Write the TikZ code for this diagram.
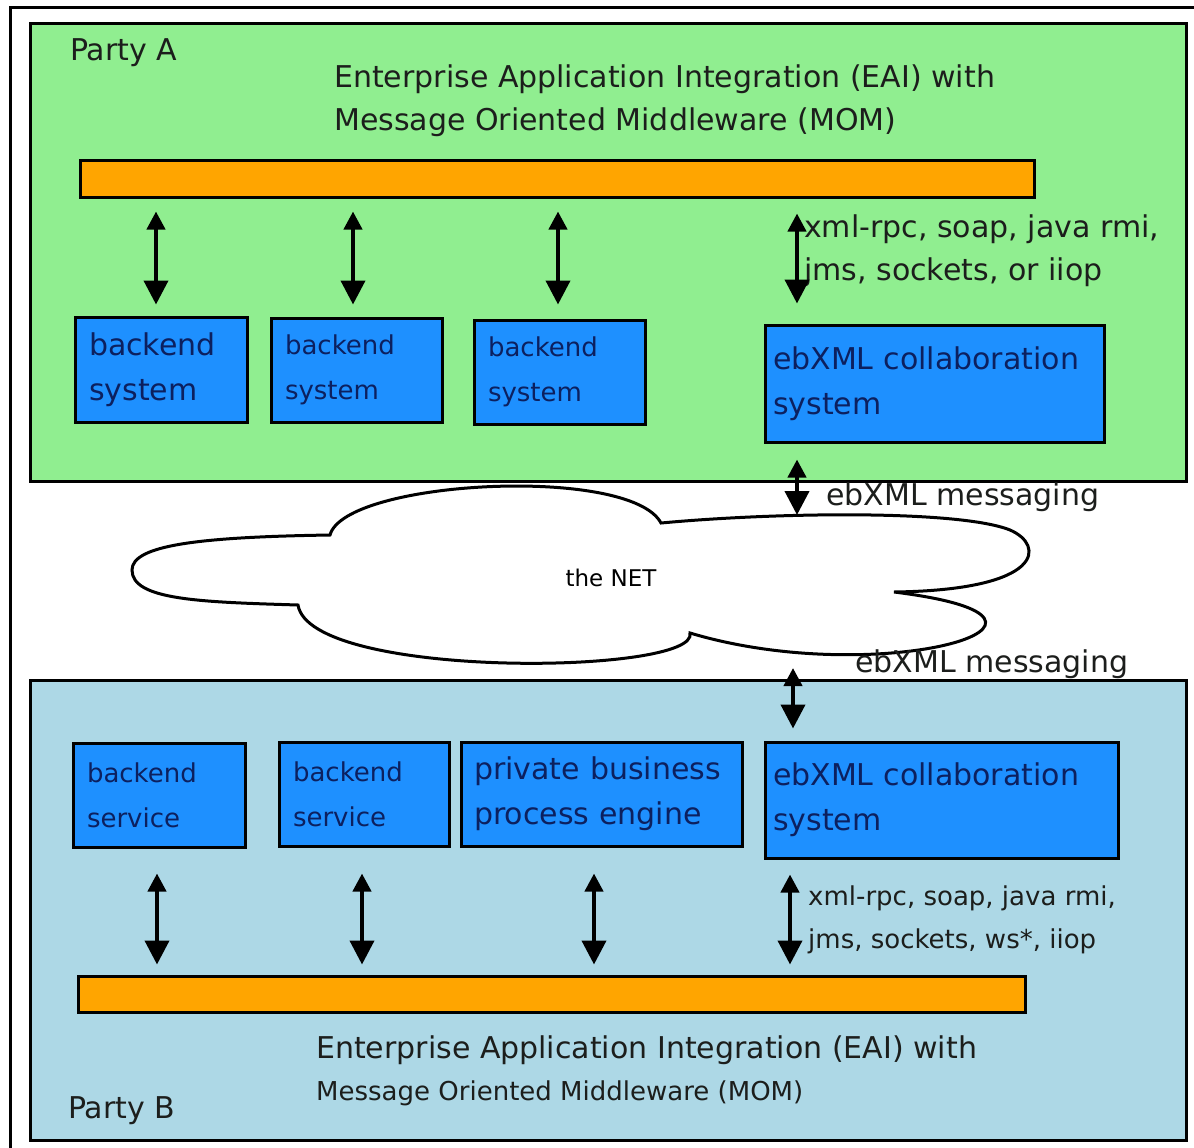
\documentclass[tikz,border=0pt]{standalone}
\usepackage{fontspec}
\setmainfont{DejaVu Sans}
\usetikzlibrary{arrows.meta}

\definecolor{greenA}{RGB}{144,238,144}
\definecolor{blueB}{RGB}{173,216,230}
\definecolor{busorange}{RGB}{255,165,0}
\definecolor{sysblue}{RGB}{30,144,255}
\definecolor{systext}{RGB}{12,32,95}
\definecolor{ink}{RGB}{28,30,28}

\begin{document}
\begin{tikzpicture}
  [
    x=1pt, y=-1pt,
    party/.style={draw=black, line width=3pt, inner sep=0pt},
    bus/.style={draw=black, line width=3pt, fill=busorange, inner sep=0pt},
    sys/.style={draw=black, line width=3pt, fill=sysblue, text=systext,
      inner xsep=14pt, align=left, font=\fontsize{30}{45}\selectfont},
    syssm/.style={sys, font=\fontsize{26}{45}\selectfont},
    lbl/.style={anchor=base west, inner sep=0pt, text=ink,
      font=\fontsize{30}{45}\selectfont},
    lblsm/.style={lbl, font=\fontsize{26}{45}\selectfont},
    link/.style={line width=4pt, shorten <=13pt, shorten >=11pt,
      {Triangle[width=18pt,length=18pt]}-{Triangle[width=24pt,length=24pt]}}
  ]
  \useasboundingbox (0,0) rectangle (1194,1148);
  \clip (0,0) rectangle (1194,1148);
  \fill[white] (0,0) rectangle (1194,1148);
  \draw[line width=3pt] (10,1170) -- (10,8) -- (1220,8);

  % party A
  \node (partyA) at (608,252.5) [party, fill=greenA, minimum width=1156pt, minimum height=457pt] {};
  \node (nameA) at (70,60) [lbl] {Party A};
  \node (titleA1) at (334,88) [lbl] {Enterprise Application Integration (EAI) with};
  \node (titleA2) at (334,130) [lbl] {Message Oriented Middleware (MOM)};
  \node (busA) at (557,178.5) [bus, minimum width=954pt, minimum height=37pt] {};
  \node (sysA1) at (161,369.5) [sys, minimum width=172pt, minimum height=105pt, text width=144pt] {backend\\system};
  \node (sysA2) at (356.5,370) [syssm, minimum width=171pt, minimum height=104pt, text width=143pt] {backend\\system};
  \node (sysA3) at (559.5,372) [syssm, minimum width=171pt, minimum height=104pt, text width=143pt] {backend\\system};
  \node (sysA4) at (934.5,383.5) [sys, inner xsep=8pt, minimum width=339pt, minimum height=117pt, text width=323pt] {ebXML collaboration\\system};
  \node (protoA1) at (804,237) [lbl] {xml-rpc, soap, java rmi,};
  \node (protoA2) at (804,280) [lbl] {jms, sockets, or iiop};

  % the net
  \draw[line width=3pt, fill=white] (132,570)
    .. controls (132,545) and (200,537) .. (330,535)
    .. controls (345,480) and (630,465) .. (661,523)
    .. controls (780,512) and (960,510) .. (1010,530)
    .. controls (1045,545) and (1045,590) .. (894,592)
    .. controls (1120,620) and (880,690) .. (690,633)
    .. controls (700,675) and (310,680) .. (298,605)
    .. controls (200,602) and (132,600) .. (132,570) -- cycle;
  \node (net) at (611,578) [text=black, font=\fontsize{23}{28}\selectfont] {the NET};
  \coordinate (netA) at (797,515);
  \coordinate (netB) at (793,668);
  \node (msgA) at (826,505) [lbl] {ebXML messaging};
  \node (msgB) at (855,672) [lbl] {ebXML messaging};

  % party B
  \node (partyB) at (608,910) [party, fill=blueB, minimum width=1156pt, minimum height=460pt] {};
  \node (sysB1) at (159,795) [syssm, minimum width=172pt, minimum height=104pt, text width=144pt] {backend\\service};
  \node (sysB2) at (364,794) [syssm, minimum width=170pt, minimum height=104pt, text width=142pt] {backend\\service};
  \node (sysB3) at (601.5,794) [sys, inner xsep=13pt, minimum width=281pt, minimum height=104pt, text width=255pt] {private business\\process engine};
  \node (sysB4) at (941.5,800) [sys, inner xsep=8pt, minimum width=353pt, minimum height=116pt, text width=337pt] {ebXML collaboration\\system};
  \node (protoB1) at (808,905) [lblsm] {xml-rpc, soap, java rmi,};
  \node (protoB2) at (808,948) [lblsm] {jms, sockets, ws*, iiop};
  \node (busB) at (551.5,994) [bus, minimum width=947pt, minimum height=36pt] {};
  \node (titleB1) at (316,1058) [lbl] {Enterprise Application Integration (EAI) with};
  \node (titleB2) at (316,1100) [lblsm] {Message Oriented Middleware (MOM)};
  \node (nameB) at (68,1118) [lbl] {Party B};

  % arrows
  \coordinate (xA1) at (156,0);
  \coordinate (xA2) at (353,0);
  \coordinate (xA3) at (558,0);
  \coordinate (xA4) at (797,0);
  \coordinate (xB1) at (157,0);
  \coordinate (xB2) at (362,0);
  \coordinate (xB3) at (594,0);
  \coordinate (xB4) at (790,0);
  \draw [link] (busA.south -| xA1) -- (sysA1.north -| xA1);
  \draw [link, shorten >=12pt] (busA.south -| xA2) -- (sysA2.north -| xA2);
  \draw [link, shorten >=14pt] (busA.south -| xA3) -- (sysA3.north -| xA3);
  \draw [link, shorten <=15pt, shorten >=20pt] (busA.south -| xA4) -- (sysA4.north -| xA4);
  \draw [link, shorten <=16pt, shorten >=0pt] (sysA4.south -| xA4) -- (netA);
  \draw [link, shorten <=0pt, shorten >=12pt] (netB) -- (sysB4.north -| netB);
  \draw [link, shorten <=25pt, shorten >=10pt] (sysB1.south -| xB1) -- (busB.north -| xB1);
  \draw [link, shorten <=26pt, shorten >=10pt] (sysB2.south -| xB2) -- (busB.north -| xB2);
  \draw [link, shorten <=26pt, shorten >=10pt] (sysB3.south -| xB3) -- (busB.north -| xB3);
  \draw [link, shorten <=15pt, shorten >=10pt] (sysB4.south -| xB4) -- (busB.north -| xB4);
\end{tikzpicture}
\end{document}
